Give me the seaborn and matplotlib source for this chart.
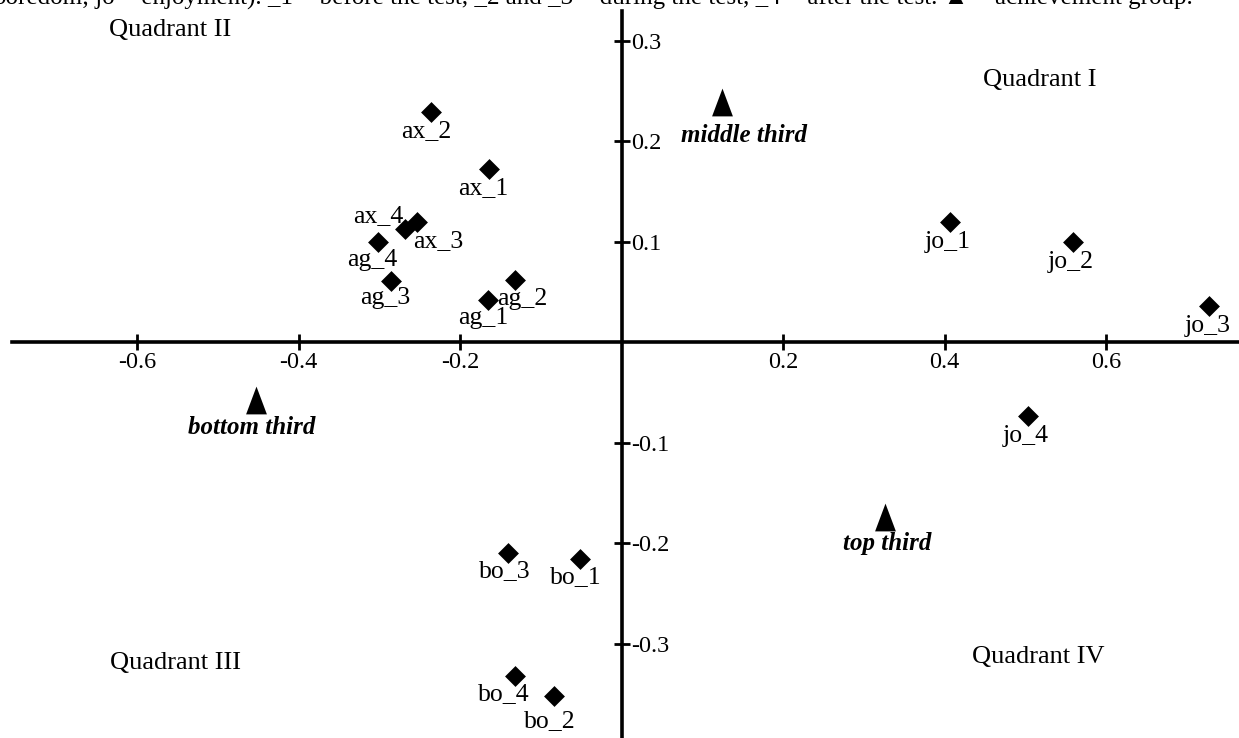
import matplotlib
matplotlib.use('Agg')
import matplotlib.pyplot as plt
import numpy as np
import pandas as pd
import seaborn as sns

# emotion points (dimension 1, dimension 2)
emo_labels = ['ax_1', 'ax_2', 'ax_3', 'ax_4',
              'ag_1', 'ag_2', 'ag_3', 'ag_4',
              'bo_1', 'bo_2', 'bo_3', 'bo_4',
              'jo_1', 'jo_2', 'jo_3', 'jo_4']
emo_x = [-0.164, -0.236, -0.253, -0.268,
         -0.165, -0.132, -0.285, -0.301,
         -0.052, -0.084, -0.140, -0.132,
         0.407, 0.559, 0.728, 0.503]
emo_y = [0.172, 0.229, 0.119, 0.112,
         0.042, 0.062, 0.061, 0.100,
         -0.216, -0.352, -0.210, -0.332,
         0.119, 0.100, 0.036, -0.074]

# achievement groups
grp_labels = ['middle third', 'bottom third', 'top third']
grp_x = [0.124, -0.453, 0.326]
grp_y = [0.239, -0.058, -0.174]

xticks = [-0.6, -0.4, -0.2, 0.2, 0.4, 0.6]
yticks = [-0.3, -0.2, -0.1, 0.1, 0.2, 0.3]

quadrants = ['Quadrant I', 'Quadrant II', 'Quadrant III', 'Quadrant IV']

caption = ('boredom; jo = enjoyment). _1 = before the test, _2 and _3 = during '
           'the test, _4 = after the test. \u25B2 = achievement group.')

emo = pd.DataFrame({'label': emo_labels, 'x': emo_x, 'y': emo_y})
grp = pd.DataFrame({'label': grp_labels, 'x': grp_x, 'y': grp_y})

# label offsets in pixels (dx right, dy down) - layout only
emo_off = {'ax_1': (-6, 19), 'ax_2': (-5, 19), 'ax_3': (21, 19), 'ax_4': (-27, -13),
           'ag_1': (-5, 18), 'ag_2': (7, 19), 'ag_3': (-6, 17), 'ag_4': (-6, 18),
           'bo_1': (-4, 18), 'bo_2': (-4, 25), 'bo_3': (-4, 18), 'bo_4': (-11, 18),
           'jo_1': (-2, 20), 'jo_2': (-2, 20), 'jo_3': (-2, 20), 'jo_4': (-2, 20)}
grp_off = {'middle third': (22, 34), 'bottom third': (-4, 27), 'top third': (2, 27)}

sns.set_style('white')
plt.rcParams['font.family'] = ['Liberation Serif', 'DejaVu Sans']
plt.rcParams['axes.unicode_minus'] = False
plt.rcParams['text.color'] = 'black'
plt.rcParams['xtick.color'] = 'black'
plt.rcParams['ytick.color'] = 'black'

fig = plt.figure(figsize=(12.39, 7.38), dpi=100)
ax = fig.add_axes([0, 0, 1, 1])

tri = [(0, 1), (-0.75, -1), (0.75, -1)]
sns.scatterplot(data=emo, x='x', y='y', marker='D', s=113, color='black',
                linewidth=0, ax=ax, legend=False, zorder=3)
sns.scatterplot(data=grp, x='x', y='y', marker=tri, s=400, color='black',
                linewidth=0, ax=ax, legend=False, zorder=3)

for lab, x, y in zip(emo_labels, emo_x, emo_y):
    dx, dy = emo_off[lab]
    ax.annotate(lab, (x, y), xytext=(dx, -dy), textcoords='offset pixels',
                ha='center', va='center', fontsize=18.5, color='black')
for lab, x, y in zip(grp_labels, grp_x, grp_y):
    dx, dy = grp_off[lab]
    ax.annotate(lab, (x, y), xytext=(dx, -dy), textcoords='offset pixels',
                ha='center', va='center', fontsize=18, style='italic',
                fontweight='bold', color='black')

# quadrant names (axes fraction)
qpos = [(1040 / 1239, 1 - 80 / 738), (170 / 1239, 1 - 30 / 738),
        (175 / 1239, 1 - 663 / 738), (1038 / 1239, 1 - 657 / 738)]
for q, (qx, qy) in zip(quadrants, qpos):
    ax.text(qx, qy, q, transform=ax.transAxes, ha='center', va='center',
            fontsize=19, color='black')

# axes through the origin
ax.set_xlim(-0.7697, 0.7647)
ax.set_ylim(-0.394, 0.3403)
ax.spines['top'].set_visible(False)
ax.spines['left'].set_visible(False)
ax.spines['bottom'].set_position(('data', 0))
ax.spines['right'].set_position(('data', 0))
ax.spines['bottom'].set_bounds(-0.755, 0.7647)
ax.spines['right'].set_bounds(-0.394, 0.329)
for s in ['bottom', 'right']:
    ax.spines[s].set_linewidth(2.6)
    ax.spines[s].set_color('black')
ax.yaxis.tick_right()
ax.xaxis.tick_bottom()
ax.set_xticks(xticks)
ax.set_yticks(yticks)
ax.set_xticklabels([f'{v:.1f}' for v in xticks])
ax.set_yticklabels([f'{v:.1f}' for v in yticks])
ax.tick_params(axis='both', direction='inout', length=12, width=2, color='black',
               labelcolor='black', labelsize=17.5, pad=1)
ax.set_xlabel('')
ax.set_ylabel('')

fig.text(-0.006, 1 - 5 / 738, caption, ha='left', va='baseline', fontsize=18,
         color='black')

fig.savefig('out.png', dpi=100)
